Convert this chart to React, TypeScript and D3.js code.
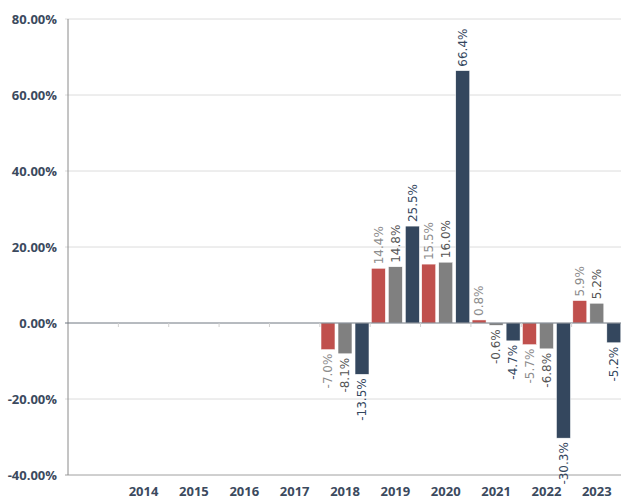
import React from 'react';
import * as d3 from 'd3';

// Years on the x axis (first band is left unlabelled)
const years = ['2013', '2014', '2015', '2016', '2017', '2018', '2019', '2020', '2021', '2022', '2023'];
const yearLabels = ['', '2014', '2015', '2016', '2017', '2018', '2019', '2020', '2021', '2022', '2023'];

// Annual returns (%), null = no data
const redSeries = [null, null, null, null, null, -7.0, 14.4, 15.5, 0.8, -5.7, 5.9];
const graySeries = [null, null, null, null, null, -8.1, 14.8, 16.0, -0.6, -6.8, 5.2];
const navySeries = [null, null, null, null, null, -13.5, 25.5, 66.4, -4.7, -30.3, -5.2];

const yTicks = [80, 60, 40, 20, 0, -20, -40];

const series = [
  { key: 'red', values: redSeries, fill: '#c0504d', labelColor: '#8c8c8c' },
  { key: 'gray', values: graySeries, fill: '#808080', labelColor: '#555555' },
  { key: 'navy', values: navySeries, fill: '#34475e', labelColor: '#34475e' },
];

const W = 621;
const H = 499;
const left = 68;
const right = 622;
const top = 19;
const bottom = 475;

export default function App() {
  const x = d3.scaleBand().domain(years).range([left, right]).paddingInner(0).paddingOuter(0);
  const xs = d3
    .scaleBand()
    .domain(series.map(s => s.key))
    .range([1.2, x.bandwidth() - 1.2])
    .paddingInner(0.18)
    .paddingOuter(0);
  const y = d3.scaleLinear().domain([-40, 80]).range([bottom, top]);
  // plain hyphen minus, like the original
  const fmtTick = (d: number) => d.toFixed(2) + '%';
  const fmtVal = (d: number) => d.toFixed(1) + '%';
  const y0 = y(0);

  return (
    <svg width={W} height={H} style={{ position: 'absolute', left: 0, top: 0 }}>
      {/* grid */}
      {yTicks.map(t => (
        <g key={t}>
          {t !== 0 && t !== -40 && (
            <line x1={left - 3} x2={W} y1={y(t)} y2={y(t)} stroke="#dcdcdc" strokeWidth={1} />
          )}
          <text
            x={57}
            y={y(t)}
            dy="0.35em"
            textAnchor="end"
            fontFamily="Open Sans"
            fontWeight="bold"
            fontSize={13}
            fill="#3b4a5e"
          >
            {fmtTick(t)}
          </text>
        </g>
      ))}
      <line x1={left - 3} x2={W} y1={bottom} y2={bottom} stroke="#a0a0a0" strokeWidth={1} />
      <line x1={left} x2={left} y1={top} y2={bottom} stroke="#8a8a8a" strokeWidth={1} />

      {/* bars */}
      {series.map(s =>
        s.values.map((v, i) => {
          if (v === null) return null;
          const bx = (x(years[i]) as number) + (xs(s.key) as number);
          const bw = xs.bandwidth();
          const yv = y(v);
          const cx = bx + bw / 2;
          const pos = v >= 0;
          const ly = pos ? yv - 4 : yv + 4;
          return (
            <g key={s.key + i}>
              <rect
                x={bx}
                y={Math.min(yv, y0)}
                width={bw}
                height={Math.max(1, Math.abs(yv - y0))}
                fill={s.fill}
                stroke="#ffffff"
                strokeWidth={0.5}
              />
              <text
                transform={`translate(${cx},${ly}) rotate(-90)`}
                dy="0.35em"
                textAnchor={pos ? 'start' : 'end'}
                fontFamily="DejaVu Sans"
                fontSize={12}
                fill={s.labelColor}
              >
                {fmtVal(v)}
              </text>
            </g>
          );
        })
      )}

      {/* zero line with band ticks */}
      <line x1={left - 3} x2={W} y1={y0} y2={y0} stroke="#6f7680" strokeWidth={1} />
      {years.slice(1).map(yr => (
        <line
          key={yr}
          x1={x(yr) as number}
          x2={x(yr) as number}
          y1={y0}
          y2={y0 + 4}
          stroke="#d0d0d0"
          strokeWidth={1}
        />
      ))}

      {/* x labels */}
      {years.map((yr, i) => (
        <text
          key={yr}
          x={(x(yr) as number) + x.bandwidth() / 2}
          y={496}
          textAnchor="middle"
          fontFamily="Open Sans"
          fontWeight="bold"
          fontSize={13}
          fill="#3b4a5e"
        >
          {yearLabels[i]}
        </text>
      ))}
    </svg>
  );
}
